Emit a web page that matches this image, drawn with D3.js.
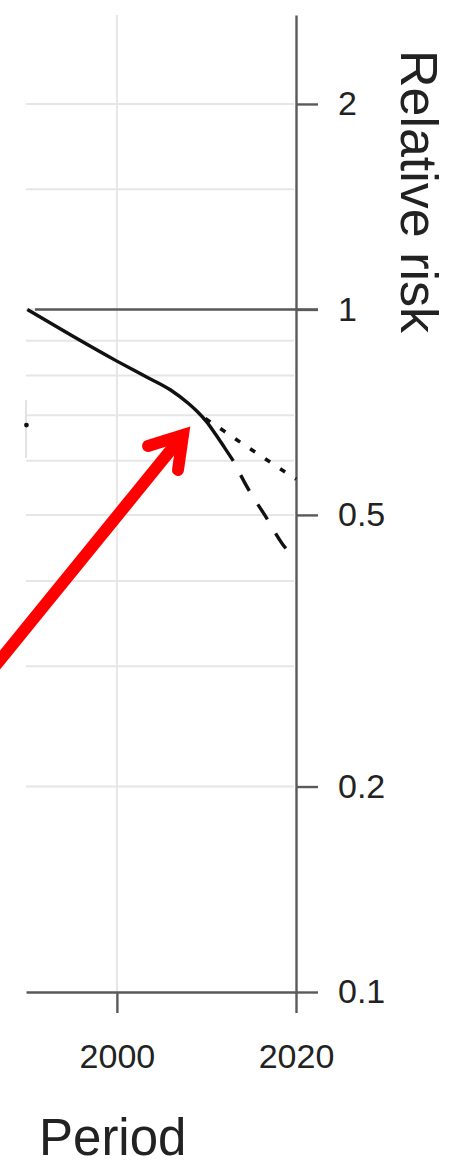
<!DOCTYPE html>
<html>
<head>
<meta charset="utf-8">
<script src="https://cdn.jsdelivr.net/npm/d3@7"></script>
<style>
  html, body { margin: 0; padding: 0; background: #ffffff; }
  svg { display: block; font-family: "Liberation Sans", Arial, Helvetica, sans-serif; }
</style>
</head>
<body>
<svg id="chart" width="462" height="1166"></svg>
<script>
// ---- data ----
const xTickValues = [2000, 2020];
const xTickLabels = ["2000", "2020"];
const yTickValues = [0.1, 0.2, 0.5, 1, 2];
const yTickLabels = ["0.1", "0.2", "0.5", "1", "2"];
const yGridValues = [0.2, 0.3, 0.4, 0.5, 0.6, 0.7, 0.8, 0.9, 1.5, 2];
const xGridValues = [2000];
const referenceValue = 1;

// observed trend (solid)
const solidYears = [1990, 1995, 2000, 2003, 2006, 2008, 2009, 2010, 2011, 2012, 2013];
const solidRR    = [1.0, 0.915, 0.840, 0.800, 0.762, 0.728, 0.708, 0.685, 0.657, 0.628, 0.600];
// projection, dashed
const dashedYears = [2013, 2014.9, 2016.5, 2018.5, 2019.3];
const dashedRR    = [0.600, 0.539, 0.500, 0.453, 0.440];
// projection, dotted
const dottedYears = [2009.5, 2012, 2014, 2016, 2018, 2020];
const dottedRR    = [0.697, 0.663, 0.636, 0.611, 0.587, 0.564];
// piece of neighbouring panel visible at the left edge
const edgeYear = 1989.9;
const edgeRR = 0.677;
const edgeSegRR = [0.737, 0.606];

const xTitle = "Period";
const yTitle = "Relative risk";

// ---- scales ----
const svg = d3.select("#chart");
const x = d3.scaleLinear().domain([1989.85, 2020]).range([26, 296]);
const y = d3.scaleLog().domain([0.1, 2.7]).range([992, 15]);

const gridColor = "#e6e6e6";
const axisColor = "#5a5a5a";
const textColor = "#222222";

// ---- grid ----
svg.append("g").selectAll("line.hg").data(yGridValues).join("line")
  .attr("x1", x.range()[0]).attr("x2", x.range()[1] - 2)
  .attr("y1", d => y(d)).attr("y2", d => y(d))
  .attr("stroke", gridColor).attr("stroke-width", 2);

svg.append("g").selectAll("line.vg").data(xGridValues).join("line")
  .attr("x1", d => x(d)).attr("x2", d => x(d))
  .attr("y1", y.range()[1]).attr("y2", y.range()[0])
  .attr("stroke", gridColor).attr("stroke-width", 2);

// light gridline under reference line at 1
svg.append("line")
  .attr("x1", x.range()[0]).attr("x2", x.range()[1])
  .attr("y1", y(referenceValue)).attr("y2", y(referenceValue))
  .attr("stroke", gridColor).attr("stroke-width", 2);

// neighbouring panel fragment
svg.append("line")
  .attr("x1", x(edgeYear) - 0.5).attr("x2", x(edgeYear) - 0.5)
  .attr("y1", y(edgeSegRR[0])).attr("y2", y(edgeSegRR[1]))
  .attr("stroke", "#e2e2e2").attr("stroke-width", 2);
svg.append("circle")
  .attr("cx", x(edgeYear)).attr("cy", y(edgeRR)).attr("r", 2.4)
  .attr("fill", "#111");

// reference line at RR = 1
svg.append("line")
  .attr("x1", 35).attr("x2", x.range()[1] + 22)
  .attr("y1", y(referenceValue)).attr("y2", y(referenceValue))
  .attr("stroke", axisColor).attr("stroke-width", 2.4);

// ---- axes ----
const yAxis = d3.axisRight(y)
  .tickValues(yTickValues)
  .tickFormat((d, i) => yTickLabels[i])
  .tickSize(22).tickSizeOuter(0).tickPadding(20);
const gy = svg.append("g").attr("transform", `translate(${x.range()[1]},0)`).call(yAxis);

const xAxis = d3.axisBottom(x)
  .tickValues(xTickValues)
  .tickFormat((d, i) => xTickLabels[i])
  .tickSize(21).tickSizeOuter(0).tickPadding(31);
const gx = svg.append("g").attr("transform", `translate(0,${y.range()[0]})`).call(xAxis);

[gy, gx].forEach(g => {
  g.select(".domain").attr("stroke", axisColor).attr("stroke-width", 2.4);
  g.selectAll(".tick line").attr("stroke", axisColor).attr("stroke-width", 2.4);
  g.selectAll(".tick text")
    .attr("fill", textColor)
    .style("font-size", "34px")
    .style("font-family", "'Liberation Sans', Arial, sans-serif");
});

// ---- lines ----
const line = d3.line().x(d => x(d[0])).y(d => y(d[1])).curve(d3.curveMonotoneX);
const solidPts = solidYears.map((yr, i) => [yr, solidRR[i]]);
const dashedPts = dashedYears.map((yr, i) => [yr, dashedRR[i]]);
const dottedPts = dottedYears.map((yr, i) => [yr, dottedRR[i]]);

svg.append("path").attr("d", line(dottedPts))
  .attr("fill", "none").attr("stroke", "#111").attr("stroke-width", 3.6)
  .attr("stroke-dasharray", "6,12").attr("stroke-dashoffset", -4);

svg.append("path").attr("d", line(dashedPts))
  .attr("fill", "none").attr("stroke", "#111").attr("stroke-width", 3.4)
  .attr("stroke-dasharray", "18,16").attr("stroke-dashoffset", 18);

svg.append("path").attr("d", line(solidPts))
  .attr("fill", "none").attr("stroke", "#111").attr("stroke-width", 3.4);

// ---- titles ----
svg.append("text")
  .attr("transform", `translate(401,${(15 + 368) / 2}) rotate(90)`)
  .attr("text-anchor", "middle")
  .attr("fill", textColor)
  .style("font-size", "52px")
  .text(yTitle);

svg.append("text")
  .attr("x", 39).attr("y", 1155)
  .attr("fill", textColor)
  .style("font-size", "51px")
  .text(xTitle);

// ---- red annotation arrow ----
const arrowVertex = [183, 435];
const arrowDir = [-0.631, 0.776];
svg.append("line")
  .attr("x1", arrowVertex[0]).attr("y1", arrowVertex[1])
  .attr("x2", arrowVertex[0] + arrowDir[0] * 400).attr("y2", arrowVertex[1] + arrowDir[1] * 400)
  .attr("stroke", "#ff0000").attr("stroke-width", 12);
svg.append("polyline")
  .attr("points", `148,446 ${arrowVertex[0]},${arrowVertex[1]} 178,470`)
  .attr("fill", "none").attr("stroke", "#ff0000").attr("stroke-width", 12)
  .attr("stroke-linecap", "round").attr("stroke-linejoin", "miter").attr("stroke-miterlimit", 10);
</script>
</body>
</html>
